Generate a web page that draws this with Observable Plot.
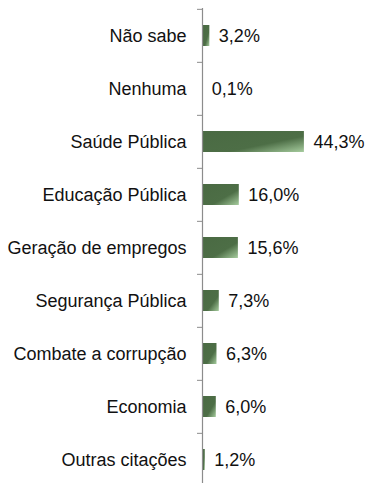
<!DOCTYPE html>
<html>
<head>
<meta charset="utf-8">
<script src="https://cdn.jsdelivr.net/npm/d3@7"></script>
<script src="https://cdn.jsdelivr.net/npm/@observablehq/plot@0.6"></script>
<style>
  html, body { margin: 0; padding: 0; background: #fff; }
</style>
</head>
<body>
<div id="chart"></div>
<script>
const categories = ["Não sabe", "Nenhuma", "Saúde Pública", "Educação Pública", "Geração de empregos", "Segurança Pública", "Combate a corrupção", "Economia", "Outras citações"];
const values = [3.2, 0.1, 44.3, 16.0, 15.6, 7.3, 6.3, 6.0, 1.2];

const data = categories.map((c, i) => ({category: c, value: values[i]}));
const fmt = v => v.toFixed(1).replace(".", ",") + "%";

const H = 483, mTop = 8, mBottom = -5;
const band = (H - mBottom - mTop) / categories.length;

const svg = Plot.plot({
  width: 371,
  height: H,
  marginLeft: 202,
  marginRight: 54,
  marginTop: mTop,
  marginBottom: mBottom,
  style: {fontFamily: "'Liberation Sans', Arial, sans-serif", fontSize: "18px", color: "#111", background: "#fff"},
  x: {domain: [0, 50], axis: null},
  y: {domain: categories, paddingInner: 0.6, paddingOuter: 0.3, axis: null},
  marks: [
    Plot.axisY({tickSize: 0, tickPadding: 16, fontSize: 18, fill: "#111", label: null}),
    Plot.axisY({tickSize: 5, text: null, dy: -band / 2, stroke: "#8c8c8c", label: null}),
    Plot.barX(data, {x: "value", y: "category", fill: "url(#barGrad)", insetLeft: 1}),
    Plot.ruleX([0], {stroke: "#8c8c8c", strokeWidth: 1.2}),
    Plot.text(data, {x: "value", y: "category", text: d => fmt(d.value), textAnchor: "start", dx: 9, fontSize: 18, fill: "#111"})
  ]
});

const ns = "http://www.w3.org/2000/svg";
const defs = document.createElementNS(ns, "defs");
const grad = document.createElementNS(ns, "linearGradient");
grad.setAttribute("id", "barGrad");
grad.setAttribute("x1", "0"); grad.setAttribute("y1", "0");
grad.setAttribute("x2", "1"); grad.setAttribute("y2", "1");
[["0", "#4a6a43"], ["0.62", "#4d6e46"], ["1", "#a6cc9e"]].forEach(([o, c]) => {
  const s = document.createElementNS(ns, "stop");
  s.setAttribute("offset", o); s.setAttribute("stop-color", c);
  grad.appendChild(s);
});
defs.appendChild(grad);
svg.insertBefore(defs, svg.firstChild);

document.getElementById("chart").appendChild(svg);
</script>
</body>
</html>
